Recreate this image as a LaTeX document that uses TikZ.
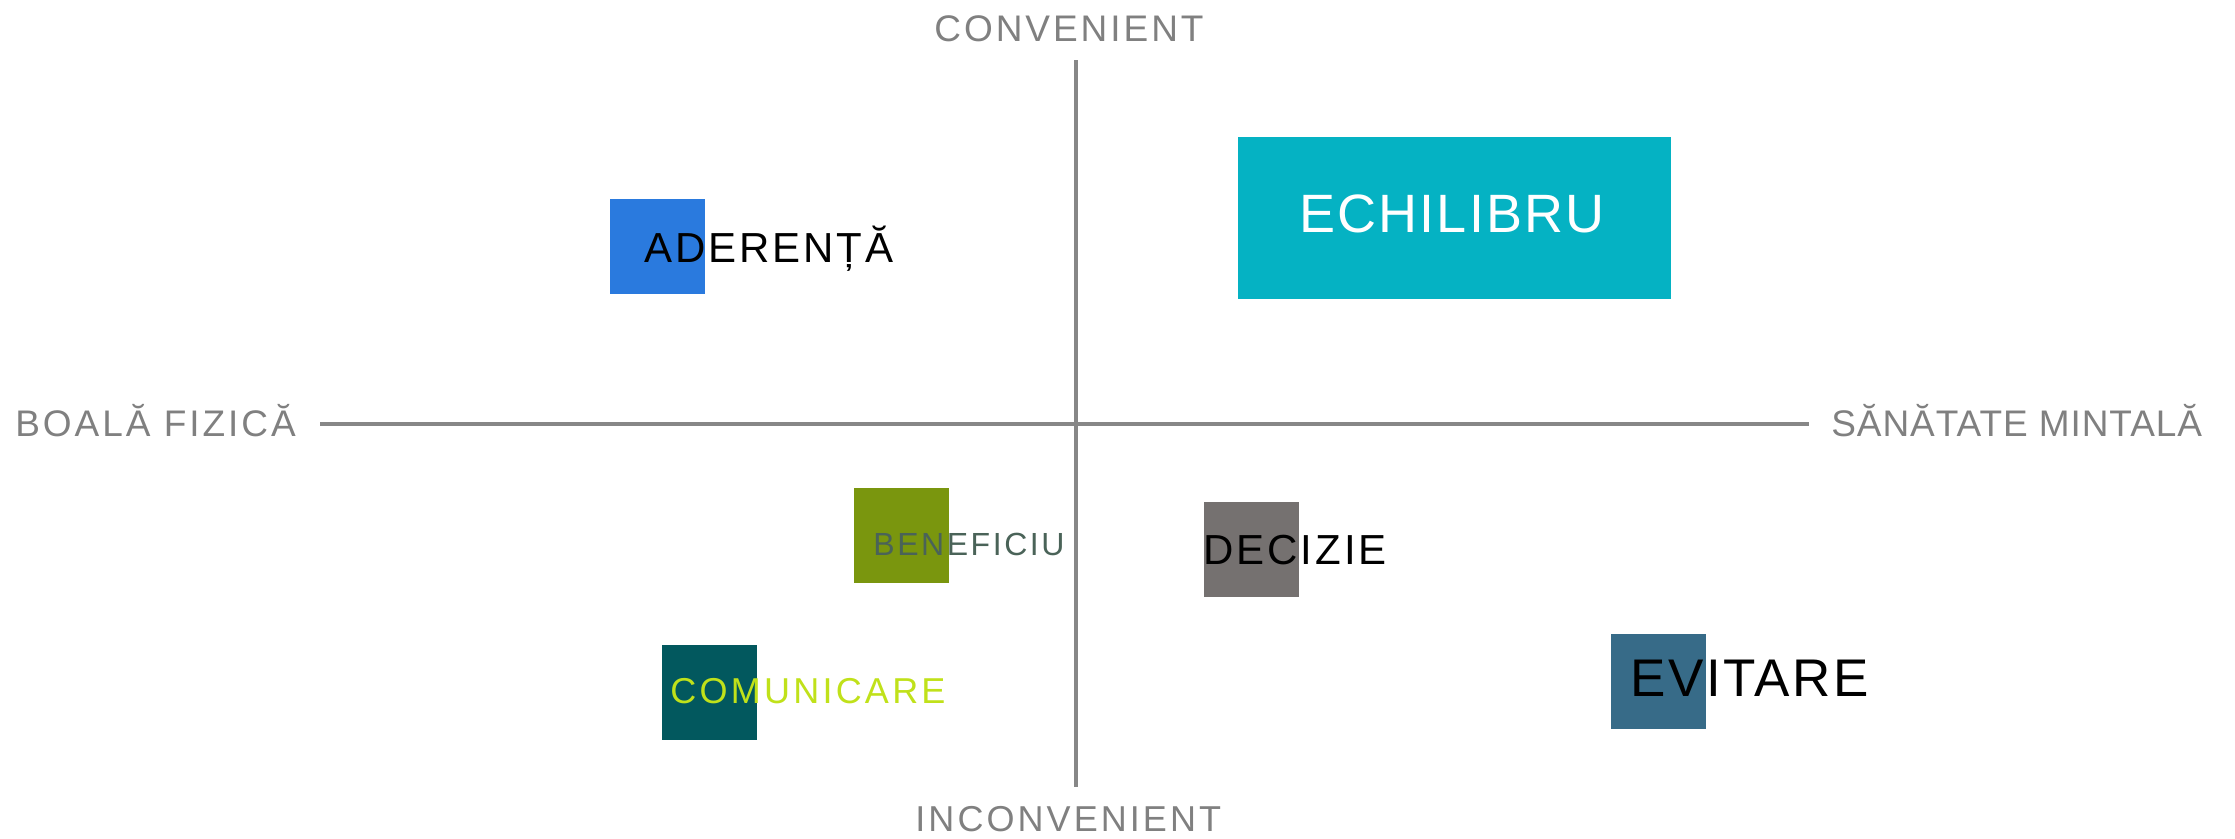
\documentclass[tikz,border=0pt]{standalone}
\usepackage{fontspec}
\setmainfont{Liberation Sans}

\definecolor{axisgray}{RGB}{135,135,135}
\definecolor{labelgray}{RGB}{128,128,128}
\definecolor{aderblue}{RGB}{42,122,222}
\definecolor{echiteal}{RGB}{5,178,195}
\definecolor{beneolive}{RGB}{122,150,14}
\definecolor{benetext}{RGB}{74,99,88}
\definecolor{decgray}{RGB}{117,113,112}
\definecolor{comdark}{RGB}{2,88,94}
\definecolor{comlime}{RGB}{192,225,26}
\definecolor{evitblue}{RGB}{55,107,136}

\tikzset{every picture/.style={line width=0.75pt}}

\begin{document}
\begin{tikzpicture}[x=1pt,y=1pt,yscale=-1,xscale=1,
  axis/.style={draw=axisgray,line width=4pt},
  tile/.style={fill=#1,draw=none,anchor=north west,inner sep=0pt,minimum width=95,minimum height=95},
  axislabel/.style={anchor=base west,inner sep=0pt,text=labelgray,font=\fontsize{37}{40}\selectfont\addfontfeatures{LetterSpace=8}},
  tilelabel/.style={anchor=base west,inner sep=0pt,font=\fontsize{42}{44}\selectfont\addfontfeatures{LetterSpace=7}}]
\useasboundingbox (0,0) rectangle (2235,838);

%Axes
\coordinate (ytop) at (1076,60);
\coordinate (ybot) at (1076,787);
\coordinate (xleft) at (320,424);
\coordinate (xright) at (1809,424);
\draw [axis] (ytop) -- (ybot);
\draw [axis] (xleft) -- (xright);

% Axis Labels
\node (conv) at (934,41) [axislabel] {CONVENIENT};
\node (inconv) at (915,831) [axislabel,font=\fontsize{36}{40}\selectfont\addfontfeatures{LetterSpace=8.5}] {INCONVENIENT};
\node (boala) at (15,436) [axislabel] {BOALĂ FIZICĂ};
\node (sanatate) at (1831,436) [axislabel,font=\fontsize{37}{40}\selectfont\addfontfeatures{LetterSpace=2.5}] {SĂNĂTATE MINTALĂ};

%Squares
\node (aderbox) at (610,199) [tile=aderblue] {};
\node (echibox) at (1238,137) [tile=echiteal,minimum width=433,minimum height=162] {};
\node (benebox) at (854,488) [tile=beneolive] {};
\node (decbox) at (1204,502) [tile=decgray] {};
\node (combox) at (662,645) [tile=comdark] {};
\node (evitbox) at (1611,634) [tile=evitblue] {};

% Text Nodes
\node (ader) at (644,262) [tilelabel] {ADERENȚĂ};
\node (echi) at (1299,232) [tilelabel,text=white,font=\fontsize{54}{56}\selectfont\addfontfeatures{LetterSpace=4}] {ECHILIBRU};
\node (bene) at (873,555) [tilelabel,text=benetext,font=\fontsize{32}{34}\selectfont\addfontfeatures{LetterSpace=8}] {BENEFICIU};
\node (dec) at (1203,564) [tilelabel] {DECIZIE};
\node (com) at (670,703) [tilelabel,text=comlime,font=\fontsize{36}{38}\selectfont\addfontfeatures{LetterSpace=9}] {COMUNICARE};
\node (evit) at (1630,696) [tilelabel,font=\fontsize{53}{55}\selectfont\addfontfeatures{LetterSpace=5}] {EVITARE};

\end{tikzpicture}
\end{document}
